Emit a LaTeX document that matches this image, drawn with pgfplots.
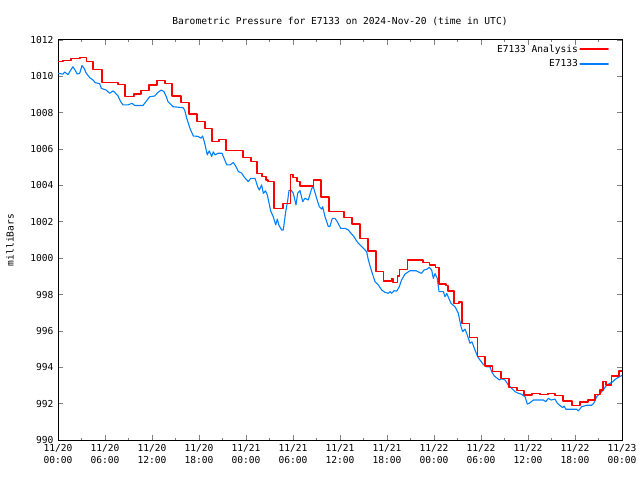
\documentclass[border=0pt]{standalone}
\usepackage{fontspec}
\setmainfont{DejaVu Sans Mono}
\usepackage{pgfplots}
\pgfplotsset{compat=1.18}
\definecolor{gred}{RGB}{255,0,0}
\definecolor{gblue}{RGB}{0,128,255}
\pgfplotstableread{
h p
0.00 1010.80
0.64 1010.80
0.64 1010.87
1.66 1010.87
1.66 1010.98
2.81 1010.98
2.81 1011.05
3.61 1011.05
3.61 1010.80
4.47 1010.80
4.47 1010.39
5.62 1010.39
5.62 1009.67
7.66 1009.67
7.66 1009.56
8.55 1009.56
8.55 1008.88
9.70 1008.88
9.70 1009.03
10.60 1009.03
10.60 1009.23
11.62 1009.23
11.62 1009.53
12.64 1009.53
12.64 1009.78
13.66 1009.78
13.66 1009.60
14.55 1009.60
14.55 1008.92
15.70 1008.92
15.70 1008.57
16.72 1008.57
16.72 1007.93
17.74 1007.93
17.74 1007.53
18.77 1007.53
18.77 1007.14
19.66 1007.14
19.66 1006.43
20.55 1006.43
20.55 1006.54
21.45 1006.54
21.45 1005.91
23.62 1005.91
23.62 1005.55
24.64 1005.55
24.64 1005.33
25.40 1005.33
25.40 1004.67
26.04 1004.67
26.04 1004.48
26.55 1004.48
26.55 1004.30
26.81 1004.30
26.81 1004.21
27.57 1004.21
27.57 1002.74
28.72 1002.74
28.72 1003.00
29.68 1003.00
29.68 1004.61
30.00 1004.61
30.00 1004.43
30.51 1004.43
30.51 1004.21
30.89 1004.21
30.89 1003.97
32.62 1003.97
32.62 1004.30
33.57 1004.30
33.57 1003.36
34.60 1003.36
34.60 1002.55
36.51 1002.55
36.51 1002.22
37.53 1002.22
37.53 1001.88
38.55 1001.88
38.55 1001.09
39.57 1001.09
39.57 1000.40
40.60 1000.40
40.60 999.28
41.55 999.28
41.55 998.75
42.57 998.75
42.57 998.90
42.77 998.90
42.77 998.65
43.34 998.65
43.34 999.02
43.60 999.02
43.60 999.39
44.62 999.39
44.62 999.90
46.60 999.90
46.60 999.75
47.43 999.75
47.43 999.63
48.19 999.63
48.19 999.50
48.64 999.50
48.64 998.58
49.53 998.58
49.53 998.50
49.79 998.50
49.79 998.20
50.55 998.20
50.55 997.52
51.19 997.52
51.19 997.59
51.57 997.59
51.57 996.40
52.53 996.40
52.53 995.65
53.55 995.65
53.55 994.58
54.51 994.58
54.51 994.07
55.47 994.07
55.47 993.76
56.55 993.76
56.55 993.39
57.57 993.39
57.57 992.90
58.60 992.90
58.60 992.71
59.49 992.71
59.49 992.48
60.51 992.48
60.51 992.55
61.53 992.55
61.53 992.50
62.55 992.50
62.55 992.55
63.45 992.55
63.45 992.45
64.47 992.45
64.47 992.15
65.62 992.15
65.62 991.91
66.64 991.91
66.64 992.09
67.66 992.09
67.66 992.20
68.55 992.20
68.55 992.51
69.19 992.51
69.19 992.75
69.57 992.75
69.57 993.21
69.96 993.21
69.96 993.03
70.66 993.03
70.66 993.52
71.62 993.52
71.62 993.80
72.00 993.80
}\analysis
\pgfplotstableread{
h p
0.00 1010.17
0.64 1010.12
0.85 1010.24
1.28 1010.10
1.53 1010.28
1.91 1010.53
2.17 1010.35
2.46 1010.13
2.77 1010.17
3.06 1010.59
3.32 1010.45
3.61 1010.17
4.05 1009.93
4.47 1009.80
4.76 1009.65
5.32 1009.60
5.53 1009.34
6.13 1009.25
6.60 1009.07
7.02 1009.20
7.24 1009.12
7.66 1008.92
8.00 1008.61
8.30 1008.43
8.94 1008.43
9.45 1008.52
9.79 1008.40
10.85 1008.40
11.07 1008.52
11.70 1008.88
12.34 1008.92
12.77 1009.12
13.19 1009.25
13.53 1009.16
13.83 1008.88
14.04 1008.61
14.68 1008.33
15.96 1008.28
16.17 1008.15
16.43 1007.70
16.85 1007.14
17.27 1006.72
17.87 1006.70
18.26 1006.60
18.45 1006.72
18.68 1006.41
19.06 1005.68
19.31 1005.90
19.62 1005.60
19.83 1005.85
20.04 1005.68
20.43 1005.77
20.94 1005.77
21.10 1005.60
21.54 1005.13
21.96 1005.13
22.38 1005.26
22.72 1005.04
23.02 1004.77
23.45 1004.68
23.74 1004.48
24.29 1004.21
24.60 1004.39
25.15 1004.39
25.49 1003.93
25.70 1003.75
26.00 1004.03
26.21 1003.57
26.49 1003.70
26.72 1003.48
27.15 1002.60
27.48 1002.28
27.79 1001.83
28.00 1002.15
28.21 1001.80
28.56 1001.55
28.76 1001.55
29.07 1002.56
29.30 1003.10
29.49 1003.72
29.74 1003.75
30.04 1003.57
30.38 1002.93
30.60 1003.57
30.89 1003.72
31.24 1003.11
31.53 1003.30
31.95 1003.20
32.39 1003.84
32.59 1003.93
33.02 1003.29
33.36 1002.83
33.66 1002.70
33.79 1002.83
34.09 1002.28
34.51 1001.73
34.72 1001.76
35.02 1002.19
35.36 1002.19
35.66 1002.00
36.09 1001.64
36.64 1001.64
37.06 1001.55
37.40 1001.37
37.79 1001.18
38.04 1001.00
38.34 1000.82
38.55 1000.73
38.98 1000.55
39.41 1000.35
39.62 999.90
40.05 999.26
40.47 998.71
40.89 998.53
41.32 998.25
41.74 998.12
42.17 998.07
42.38 998.16
42.60 998.07
42.89 998.21
43.24 998.19
43.57 998.43
43.86 998.80
44.30 999.13
44.94 999.31
45.70 999.31
46.21 999.20
46.43 999.17
46.72 999.35
47.14 999.40
47.40 999.50
47.70 999.35
47.91 998.89
48.13 999.15
48.42 998.89
48.64 998.16
49.19 998.16
49.40 997.88
49.62 998.06
50.17 997.52
50.68 997.33
51.10 996.97
51.45 996.23
51.66 995.96
51.96 996.10
52.17 995.87
52.60 995.32
52.85 995.40
53.23 994.95
53.58 994.58
53.87 994.40
54.29 994.16
54.73 994.03
55.15 994.03
55.36 993.76
55.70 993.52
56.08 993.39
56.34 993.30
56.64 993.37
57.06 993.30
57.49 993.03
57.91 992.84
58.34 992.66
58.76 992.57
59.19 992.51
59.62 992.38
59.91 991.98
60.17 992.02
60.68 992.20
61.96 992.20
62.26 992.11
62.60 992.29
62.94 992.20
63.45 992.25
63.74 992.02
64.17 991.87
64.43 991.78
64.60 991.87
64.85 991.69
66.21 991.69
66.42 991.60
66.85 991.83
67.49 991.91
68.13 991.91
68.43 992.05
68.77 992.38
69.19 992.57
69.61 992.75
70.04 993.03
70.47 993.12
70.81 993.20
71.11 993.33
71.66 993.48
72.00 993.55
}\station
\begin{document}
\begin{tikzpicture}[font=\fontsize{9.6bp}{11.5bp}\selectfont]
\begin{axis}[
  name=ax,
  scale only axis,
  width=564bp, height=400bp,
  xmin=0, xmax=72, ymin=990, ymax=1012,
  xtick={0,6,...,72},
  minor xtick={3,9,...,69},
  xticklabels={{11/20\\00:00},{11/20\\06:00},{11/20\\12:00},{11/20\\18:00},{11/21\\00:00},{11/21\\06:00},{11/21\\12:00},{11/21\\18:00},{11/22\\00:00},{11/22\\06:00},{11/22\\12:00},{11/22\\18:00},{11/23\\00:00}},
  xticklabel style={align=center, yshift=-1bp},
  ytick={990,992,...,1012},
  /pgf/number format/assume math mode=true,
  /pgf/number format/1000 sep={},
  yticklabel style={xshift=-1bp},
  tick align=inside,
  major tick length=5bp,
  minor tick length=2.5bp,
  xtick pos=both, ytick pos=both,
  xticklabel pos=lower, yticklabel pos=left,
  axis line style={line width=1bp},
  every tick/.append style={line width=0.8bp},
  title={Barometric Pressure for E7133 on 2024-Nov-20 (time in UTC)},
  title style={yshift=5bp},
  ylabel={milliBars},
  ylabel style={at={(axis description cs:-0.0851,0.5)}, anchor=center},
  legend style={at={(1,1)}, anchor=north east, draw=none, fill=none, xshift=-10bp, yshift=-1bp,
    row sep=3bp, nodes={inner sep=1.5bp}},
  legend cell align=right,
  legend plot pos=right,
  legend reversed,
  legend image code/.code={\draw[#1, line width=1.4bp] (0bp,0bp) -- (28bp,0bp);},
]
\addplot[draw=gblue, fill=white, line width=1.1bp, line join=round, line cap=round] table[x=h,y=p] {\station};
\addlegendentry{E7133}
\addplot[draw=gred, color=gred, fill=none, line width=1.3bp, line join=round, line cap=round] table[x=h,y=p] {\analysis};
\addlegendentry{E7133 Analysis}
\end{axis}
\pgfresetboundingbox
\path (ax.south west) ++(-58bp,-40bp) rectangle ++(640bp,480bp);
\end{tikzpicture}
\end{document}
